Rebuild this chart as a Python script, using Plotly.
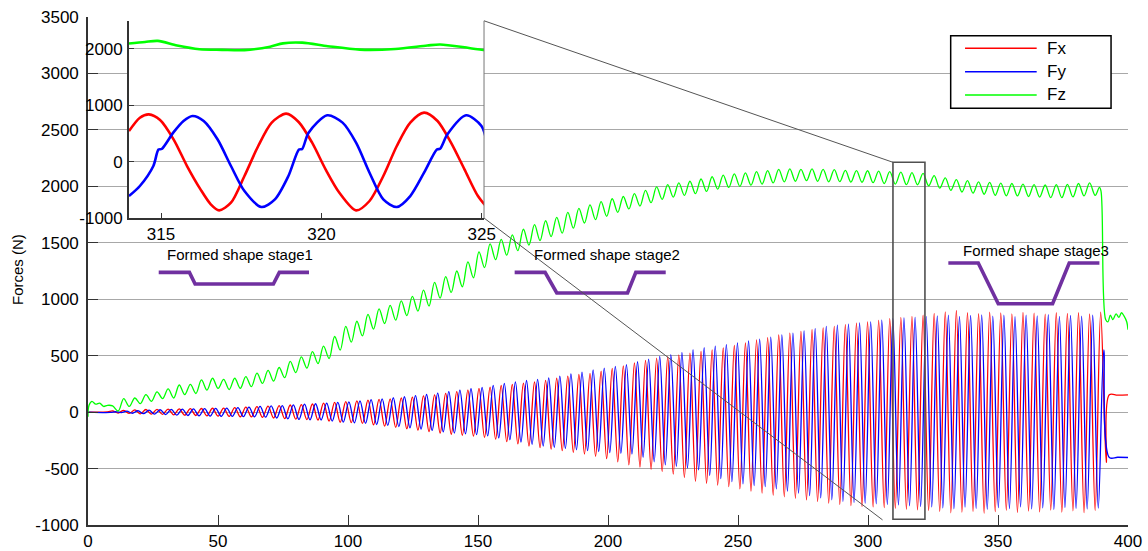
import numpy as np
import plotly.graph_objects as go

# ---------------------------------------------------------------------------
# Cutting forces over a 400 s forming run.
# Fx / Fy oscillate once per tool revolution; each list holds one value per
# revolution (peak and trough), Fz holds the slowly rising normal force.
# ---------------------------------------------------------------------------
T0 = 9.47          # time of the first Fx peak (s)
PERIOD = 4.27      # revolution period (s)
FY_LAG = 1.2       # Fy lags Fx by this many seconds

fx_peak = [10, 16, 20, 23, 25, 27, 28, 31, 32, 34,
           36, 40, 44, 49, 53, 58, 63, 67, 72, 79,
           86, 93, 99, 106, 112, 118, 126, 133, 143, 152,
           166, 181, 195, 210, 222, 236, 246, 257, 267, 282,
           300, 318, 333, 344, 362, 388, 410, 436, 458, 479,
           492, 507, 523, 537, 552, 568, 590, 612, 640, 660,
           683, 700, 716, 731, 745, 760, 775, 789, 800, 812,
           828, 840, 848, 858, 875, 888, 900, 880, 872, 885,
           878, 870, 884, 876, 868, 880, 874, 882, 870, 885]
fx_trough = [-8, -12, -15, -18, -20, -24, -27, -30, -33, -36,
             -38, -41, -43, -46, -52, -58, -63, -66, -70, -80,
             -90, -93, -100, -113, -125, -135, -147, -160, -172, -185,
             -196, -205, -213, -224, -240, -262, -282, -300, -315, -328,
             -342, -357, -371, -392, -412, -440, -467, -486, -506, -527,
             -550, -580, -612, -630, -646, -660, -680, -700, -718, -735,
             -750, -763, -778, -792, -807, -818, -828, -837, -840, -846,
             -852, -860, -866, -872, -880, -892, -885, -878, -895, -882,
             -870, -888, -876, -884, -868, -886, -874, -890, -872, -446]

fy_peak = [3, 8, 12, 17, 21, 25, 27, 29, 31, 33,
           35, 40, 45, 50, 55, 58, 64, 70, 74, 80,
           86, 90, 100, 110, 118, 127, 136, 146, 156, 168,
           181, 195, 207, 219, 236, 255, 268, 280, 290, 302,
           318, 338, 355, 375, 390, 405, 421, 446, 470, 494,
           510, 530, 553, 570, 585, 597, 613, 630, 647, 665,
           685, 700, 720, 740, 760, 770, 780, 790, 800, 815,
           828, 835, 840, 845, 852, 860, 848, 856, 862, 850,
           858, 846, 860, 852, 864, 848, 856, 850, 858, 552]
fy_trough = [-5, -10, -14, -18, -22, -27, -30, -33, -35, -37,
             -38, -40, -42, -45, -52, -60, -65, -68, -70, -80,
             -88, -95, -100, -110, -118, -128, -139, -150, -162, -175,
             -185, -192, -200, -211, -228, -245, -265, -285, -300, -312,
             -322, -334, -342, -349, -358, -365, -371, -400, -440, -467,
             -480, -495, -511, -560, -590, -615, -636, -650, -660, -680,
             -700, -718, -740, -760, -777, -790, -800, -807, -812, -818,
             -822, -830, -836, -840, -848, -856, -842, -852, -860, -846,
             -855, -840, -858, -848, -862, -845, -852, -858, -850, -402]

fz_peak = [55, 120, 125, 155, 180, 205, 240, 245, 285, 300,
           290, 300, 315, 345, 370, 395, 450, 490, 535, 585,
           670, 760, 805, 865, 915, 945, 985, 1025, 1080, 1150,
           1200, 1250, 1330, 1420, 1490, 1530, 1570, 1620, 1660, 1695,
           1725, 1770, 1805, 1835, 1865, 1890, 1910, 1935, 1965, 1995,
           2015, 2030, 2045, 2065, 2085, 2100, 2110, 2120, 2130, 2140,
           2150, 2155, 2150, 2155, 2150, 2148, 2142, 2140, 2138, 2135,
           2130, 2125, 2122, 2115, 2095, 2075, 2060, 2050, 2040, 2035,
           2028, 2025, 2020, 2015, 2012, 2015, 2018, 2025, 2030]
fz_trough = [10, 50, 75, 95, 120, 125, 155, 165, 195, 210,
             200, 210, 225, 255, 275, 305, 350, 390, 430, 475,
             550, 620, 675, 735, 785, 815, 855, 895, 940, 1010,
             1060, 1110, 1190, 1280, 1350, 1390, 1430, 1480, 1520, 1555,
             1585, 1630, 1675, 1705, 1735, 1770, 1800, 1825, 1855, 1885,
             1905, 1920, 1935, 1955, 1975, 1990, 2000, 2010, 2020, 2030,
             2040, 2045, 2050, 2045, 2040, 2042, 2038, 2036, 2032, 2025,
             2020, 2015, 2014, 2005, 1985, 1965, 1950, 1940, 1930, 1920,
             1916, 1915, 1910, 1905, 1900, 1900, 1906, 1915, 1920]

# samples before the oscillation starts and after the tool is retracted
fx_head_t, fx_head = [0.0, 7.5], [0, 2]
fx_tail_t, fx_tail = [392.8, 396.0, 400.0], [153, 150, 152]
fy_head_t, fy_head = [0.0, 8.5], [0, -3]
fy_tail_t, fy_tail = [396.0, 400.0], [-400, -402]
fz_head_t = [0.0, 0.4, 1.5, 3.0, 4.5, 6.0, 7.5]
fz_head = [-40, 60, 95, 70, 80, 50, 60]
fz_tail_t = [389.0, 389.6, 391.4, 392.3, 393.2, 394.2, 395.4, 396.5, 397.5, 398.5, 399.5, 400.0]
fz_tail = [1990, 1960, 820, 800, 860, 820, 870, 840, 880, 850, 800, 730]

# detail window 314 s - 325 s
inset_fx_t = [314.00, 314.34, 314.62, 314.97, 315.39, 315.81, 316.23, 316.55, 316.81,
              317.18, 317.60, 318.03, 318.45, 318.90, 319.29, 319.71, 320.13, 320.56,
              321.08, 321.50, 321.93, 322.35, 322.77, 323.20, 323.62, 324.04, 324.46,
              324.88, 325.20]
inset_fx = [543, 780, 840, 740, 397, -77, -491, -757, -864,
            -728, -255, 278, 693, 853, 704, 337, -136, -551,
            -864, -698, -255, 278, 693, 870, 722, 337, -136,
            -610, -835]
inset_fy_t = [314.00, 314.34, 314.76, 314.92, 315.02, 315.38, 315.70, 315.98, 316.33,
              316.76, 317.18, 317.60, 318.13, 318.55, 318.97, 319.30, 319.40, 319.60,
              320.18, 320.66, 321.08, 321.50, 321.93, 322.35, 322.77, 323.20, 323.60,
              323.70, 323.93, 324.51, 324.99, 325.20]
inset_fy = [-610, -432, -77, 215, 225, 515, 722, 811, 722,
            397, -77, -521, -805, -669, -255, 215, 225, 515,
            823, 693, 337, -196, -669, -805, -610, -196, 215,
            230, 486, 823, 634, 219]
inset_fz_t = [314.0, 314.5, 314.9, 315.5, 316.2, 316.9, 317.6, 318.4, 318.8, 319.4,
              320.2, 321.2, 322.3, 323.3, 323.7, 324.6, 325.2]
inset_fz = [2096, 2125, 2143, 2060, 1995, 1985, 1980, 2040, 2100, 2112,
            2050, 1988, 2000, 2062, 2080, 2018, 1970]

# outlines of the formed part at the three stages (data units of the main axes)
stage1_x = [27.2, 39.0, 41.2, 71.3, 73.6, 85.0]
stage1_y = [1238, 1238, 1135, 1135, 1238, 1238]
stage2_x = [164.1, 175.8, 180.3, 207.5, 210.7, 222.2]
stage2_y = [1238, 1238, 1055, 1055, 1238, 1238]
stage3_x = [330.9, 342.4, 350.1, 371.0, 377.4, 389.0]
stage3_y = [1321, 1321, 960, 960, 1321, 1321]
stage_labels = ["Formed shape stage1", "Formed shape stage2", "Formed shape stage3"]
stage_label_pos = [(58.5, 1394), (199.8, 1394), (364.6, 1433)]

y_ticks = [-1000, -500, 0, 500, 1000, 1500, 2000, 2500, 3000, 3500]
x_ticks = [0, 50, 100, 150, 200, 250, 300, 350, 400]
inset_y_ticks = [-1000, 0, 1000, 2000]
inset_x_ticks = [315, 320, 325]

RED, BLUE, GREEN = "#ff0000", "#0000ff", "#00ff00"
PURPLE = "#7030a0"
AXIS = "#333333"
GRID = "#a8a8a8"
FONT = "Liberation Sans, Arial, Helvetica, sans-serif"


def label(v):
    return str(v).replace("\u2212", "-")


def revolutions(head_t, head, peaks, troughs, shift, tail_t, tail):
    """Interleave peak/trough values on the revolution time base."""
    k = np.arange(len(peaks))
    tp = T0 + shift + PERIOD * k
    tt = tp + PERIOD / 2
    t = np.empty(2 * len(k))
    v = np.empty(2 * len(k))
    t[0::2], t[1::2] = tp, tt
    v[0::2], v[1::2] = peaks, troughs
    return (np.concatenate([head_t, t, tail_t]),
            np.concatenate([head, v, tail]))


fx_t, fx = revolutions(fx_head_t, fx_head, fx_peak, fx_trough, 0.0, fx_tail_t, fx_tail)
fy_t, fy = revolutions(fy_head_t, fy_head, fy_peak, fy_trough, FY_LAG, fy_tail_t, fy_tail)
fz_t, fz = revolutions(fz_head_t, fz_head, fz_peak, fz_trough, 0.0, fz_tail_t, fz_tail)

fig = go.Figure()

for t, v, c, n in [(fx_t, fx, RED, "Fx"), (fy_t, fy, BLUE, "Fy"), (fz_t, fz, GREEN, "Fz")]:
    fig.add_trace(go.Scatter(x=t, y=v, mode="lines", name=n,
                             line=dict(color=c, width=1.3, shape="spline", smoothing=1),
                             xaxis="x", yaxis="y", showlegend=False))

for sx, sy in [(stage1_x, stage1_y), (stage2_x, stage2_y), (stage3_x, stage3_y)]:
    fig.add_trace(go.Scatter(x=sx, y=sy, mode="lines", line=dict(color=PURPLE, width=3.6),
                             xaxis="x", yaxis="y", showlegend=False, hoverinfo="skip"))

for t, v, c, n in [(inset_fx_t, inset_fx, RED, "Fx"), (inset_fy_t, inset_fy, BLUE, "Fy"),
                   (inset_fz_t, inset_fz, GREEN, "Fz")]:
    fig.add_trace(go.Scatter(x=t, y=v, mode="lines", name=n,
                             line=dict(color=c, width=2.6, shape="spline", smoothing=0.8),
                             xaxis="x2", yaxis="y2", showlegend=False))

# main axes
X_RANGE = [0, 400]
Y_RANGE = [-1000, 3500]
# inset placement (fraction of the plotting area)
INSET_X = [0.0394, 0.3808]
INSET_Y = [0.6043, 0.9925]
INSET_XR = [314.0, 325.07]
INSET_YR = [-1000, 2500]
# zoomed window marked on the main axes
ZOOM_X = [309.6, 321.9]
ZOOM_Y = [-949, 2213]

fig.update_layout(
    template="none",
    width=1148, height=551,
    margin=dict(l=88, r=20, t=17, b=26, autoexpand=False),
    paper_bgcolor="white", plot_bgcolor="white",
    font=dict(family=FONT, size=17, color="black"),
    showlegend=False,
    xaxis=dict(domain=[0, 1], range=X_RANGE, tickvals=x_ticks,
               ticktext=[label(v) for v in x_ticks], automargin=False,
               ticks="inside", ticklen=10, tickwidth=1.2, tickcolor=AXIS,
               showline=True, linecolor=AXIS, linewidth=1.6,
               showgrid=False, zeroline=False, ticklabelstandoff=0),
    yaxis=dict(domain=[0, 1], range=Y_RANGE, tickvals=y_ticks,
               ticktext=[label(v) for v in y_ticks], automargin=False,
               ticks="inside", ticklen=10, tickwidth=1.2, tickcolor=AXIS,
               showline=True, linecolor=AXIS, linewidth=1.6,
               showgrid=True, gridcolor=GRID, gridwidth=1,
               zeroline=False, ticklabelstandoff=4),
    xaxis2=dict(domain=INSET_X, range=INSET_XR, anchor="y2", tickvals=inset_x_ticks,
                ticktext=[label(v) for v in inset_x_ticks], automargin=False,
                ticks="inside", ticklen=5, tickcolor=AXIS,
                showline=True, linecolor=AXIS, linewidth=1.6,
                showgrid=False, zeroline=False, ticklabelstandoff=0),
    yaxis2=dict(domain=INSET_Y, range=INSET_YR, anchor="x2", tickvals=inset_y_ticks,
                ticktext=[label(v) for v in inset_y_ticks], automargin=False,
                ticks="inside", ticklen=5, tickcolor=AXIS,
                showline=True, linecolor=AXIS, linewidth=1.6,
                showgrid=True, gridcolor=GRID, gridwidth=1,
                zeroline=False, ticklabelstandoff=1),
)

# inset corners expressed in main-axis units
ix1 = X_RANGE[0] + INSET_X[1] * (X_RANGE[1] - X_RANGE[0])
iy0 = Y_RANGE[0] + INSET_Y[0] * (Y_RANGE[1] - Y_RANGE[0])
iy1 = Y_RANGE[0] + INSET_Y[1] * (Y_RANGE[1] - Y_RANGE[0])

shapes = [
    dict(type="rect", xref="x", yref="y", x0=ZOOM_X[0], x1=ZOOM_X[1], y0=ZOOM_Y[0], y1=ZOOM_Y[1],
         line=dict(color="#505050", width=1.6)),
    dict(type="line", xref="x", yref="y", x0=ix1, y0=iy1, x1=ZOOM_X[0], y1=ZOOM_Y[1],
         line=dict(color="#555555", width=1)),
    dict(type="line", xref="x", yref="y", x0=ix1, y0=iy0, x1=ZOOM_X[0] - 4, y1=ZOOM_Y[0] - 6,
         line=dict(color="#555555", width=1)),
    dict(type="line", xref="x", yref="y", x0=ix1, y0=iy0, x1=ix1, y1=iy1,
         line=dict(color="#777777", width=1)),
]

# legend box
LEG = dict(x0=0.8295, x1=0.9837, y0=0.8203, y1=0.9632)
shapes.append(dict(type="rect", xref="paper", yref="paper", **LEG,
                   line=dict(color="black", width=1.5), fillcolor="white"))
annotations = []
for name, colr, yp in [("Fx", RED, 0.9384), ("Fy", BLUE, 0.8923), ("Fz", GREEN, 0.8465)]:
    shapes.append(dict(type="line", xref="paper", yref="paper", x0=0.8433, x1=0.9122,
                       y0=yp, y1=yp, line=dict(color=colr, width=1.5)))
    annotations.append(dict(xref="paper", yref="paper", x=0.9202, y=yp, text=name,
                            showarrow=False, xanchor="left", yanchor="middle",
                            font=dict(size=17, family=FONT, color="black")))

for txt, (lx, ly) in zip(stage_labels, stage_label_pos):
    annotations.append(dict(xref="x", yref="y", x=lx, y=ly, text=txt, showarrow=False,
                            xanchor="center", yanchor="middle",
                            font=dict(size=15, family=FONT, color="black")))

annotations.append(dict(xref="paper", yref="paper", x=-0.0673, y=0.502, text="Forces (N)",
                        textangle=-90, showarrow=False, xanchor="center", yanchor="middle",
                        font=dict(size=15, family=FONT, color="black")))

fig.update_layout(shapes=shapes, annotations=annotations)

fig.write_html("out.html")
